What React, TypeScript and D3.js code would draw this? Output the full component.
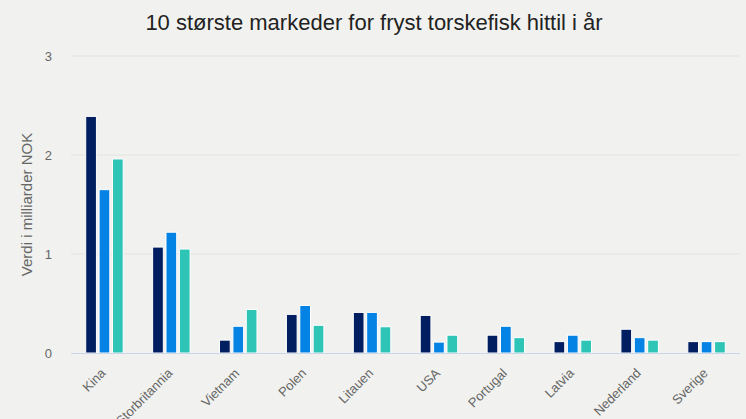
import React from "react";
import * as d3 from "d3";

const categories = ["Kina", "Storbritannia", "Vietnam", "Polen", "Litauen", "USA", "Portugal", "Latvia", "Nederland", "Sverige"];
const seriesNames = ["s1", "s2", "s3"];
const series1 = [2.39, 1.07, 0.13, 0.39, 0.41, 0.38, 0.18, 0.115, 0.24, 0.115];
const series2 = [1.65, 1.22, 0.27, 0.48, 0.41, 0.11, 0.27, 0.18, 0.155, 0.115];
const series3 = [1.96, 1.05, 0.44, 0.28, 0.265, 0.18, 0.155, 0.13, 0.13, 0.115];
const yTicks = [0, 1, 2, 3];
const colors = ["#001e60", "#0583e4", "#2ec5b7"];

const W = 746, H = 419;
const M = { left: 71, right: 6, top: 56, bottom: 66 };

export default function App() {
  const data = [series1, series2, series3];
  const x = d3.scaleBand<string>().domain(categories).range([M.left, W - M.right]).paddingInner(0).paddingOuter(0);
  const bw = x.bandwidth();
  const x1 = d3.scaleBand<string>().domain(seriesNames).range([bw * 0.2, bw * 0.8]).paddingInner(0.2).paddingOuter(0.1);
  const y = d3.scaleLinear().domain([0, 3]).range([H - M.bottom, M.top]);
  const font = "Arial, 'Liberation Sans', Helvetica, sans-serif";
  return (
    <svg width={W} height={H} style={{ position: "absolute", left: 0, top: 0, background: "#f1f2ef" }} fontFamily={font}>
      <rect x={0} y={0} width={W} height={H} fill="#f1f2ef" />
      <text x={W / 2 + 1} y={30} textAnchor="middle" fontSize={22} fill="#222">10 største markeder for fryst torskefisk hittil i år</text>
      {yTicks.map((t) => (
        <g key={t}>
          {t > 0 && <line x1={M.left} x2={W - M.right} y1={y(t)} y2={y(t)} stroke="#e2e3e0" strokeWidth={1} />}
          <text x={52} y={y(t) + 4.5} textAnchor="end" fontSize={13} fill="#666">{t}</text>
        </g>
      ))}
      <text transform={`translate(32,${(M.top + H - M.bottom) / 2}) rotate(-90)`} textAnchor="middle" fontSize={15} fill="#666">Verdi i milliarder NOK</text>
      {categories.map((c, i) => (
        <g key={c} transform={`translate(${x(c)},0)`}>
          {seriesNames.map((s, j) => {
            const v = data[j][i];
            return (
              <rect key={s} x={x1(s)} y={y(v)} width={x1.bandwidth()} height={y(0) - y(v)} fill={colors[j]} stroke="#fff" strokeWidth={1} />
            );
          })}
        </g>
      ))}
      <line x1={M.left} x2={W - M.right} y1={y(0) + 0.5} y2={y(0) + 0.5} stroke="#ccd6eb" strokeWidth={1} />
      {categories.map((c) => (
        <text key={c} transform={`translate(${(x(c) as number) + bw / 2 + 2},${y(0) + 21}) rotate(-45)`} textAnchor="end" fontSize={13} fill="#666">{c}</text>
      ))}
    </svg>
  );
}
